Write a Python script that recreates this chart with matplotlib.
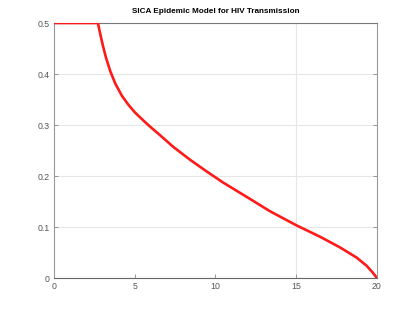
import matplotlib
matplotlib.use("Agg")
import matplotlib.pyplot as plt

plt.rcParams['font.family'] = ['Liberation Sans', 'DejaVu Sans']

x = [0, 2.72, 2.87, 3.01, 3.22, 3.49, 3.80, 4.21, 4.60, 5.0, 5.63, 6.05, 6.46,
     7.39, 8.42, 9.45, 10.48, 11.52, 12.14, 13.37, 15.03, 16.47, 17.71, 18.74,
     19.36, 19.7, 20]
y = [0.5, 0.5, 0.4775, 0.458, 0.432, 0.405, 0.381, 0.357, 0.340, 0.325, 0.306, 0.294, 0.283,
     0.257, 0.232, 0.209, 0.187, 0.167, 0.155, 0.131, 0.103, 0.081, 0.060, 0.040,
     0.024, 0.012, 0.0]

xticks = [0, 5, 10, 15, 20]
yticks = [0, 0.1, 0.2, 0.3, 0.4, 0.5]
xtick_labels = ['0', '5', '10', '15', '20']
ytick_labels = ['0', '0.1', '0.2', '0.3', '0.4', '0.5']
title = 'SICA Epidemic Model for HIV Transmission'

fig = plt.figure(figsize=(4.17, 3.13), dpi=100)
ax = fig.add_axes([0.1295, 0.1118, 0.7745, 0.8147])
ax.plot(x, y, color='#ff1a1a', lw=1.9, solid_capstyle='round',
        solid_joinstyle='round', zorder=3)
ax.set_xlim(0, 20)
ax.set_ylim(0, 0.5)
ax.set_xticks(xticks)
ax.set_xticklabels(xtick_labels)
ax.set_yticks(yticks)
ax.set_yticklabels(ytick_labels)
ax.grid(True, axis='y', color='#e6e6e6', lw=0.8)
ax.axvline(xticks[3], color='#e6e6e6', lw=0.8, zorder=0)
for s in ax.spines.values():
    s.set_color('#999999')
    s.set_linewidth(0.8)
ax.spines['bottom'].set_color('#666666')
ax.spines['top'].set_color('#777777')
ax.tick_params(direction='in', length=3, width=0.6, colors='#888888',
               labelcolor='#555555', labelsize=6.3, top=False, right=True, pad=3)
ax.set_title(title, fontsize=5.9, fontweight='bold', pad=7)
fig.savefig('out.png', dpi=100)
